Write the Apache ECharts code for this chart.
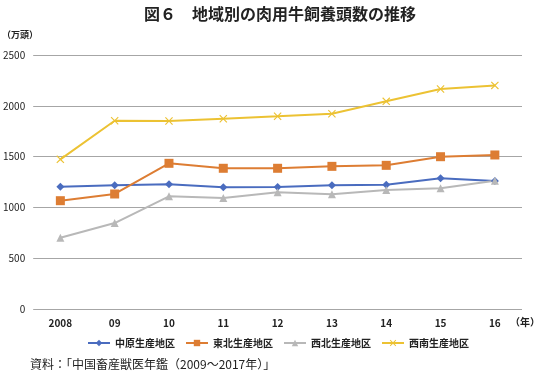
<!DOCTYPE html>
<html>
<head>
<meta charset="utf-8">
<script src="https://cdn.jsdelivr.net/npm/echarts@6/dist/echarts.min.js"></script>
<style>
  html, body { margin: 0; padding: 0; background: #fff; }
  #main { width: 535px; height: 375px; }
</style>
</head>
<body>
<div id="main"></div>
<script>
// 年（横軸）
var years = ['2008', '09', '10', '11', '12', '13', '14', '15', '16'];
// 地区別の頭数（万頭）
var chuugen = [1204, 1217, 1227, 1198, 1201, 1217, 1224, 1286, 1260];
var touhoku = [1066, 1132, 1434, 1385, 1385, 1404, 1414, 1499, 1516];
var seihoku = [702, 846, 1109, 1093, 1148, 1129, 1171, 1188, 1263];
var seinan = [1473, 1853, 1850, 1873, 1897, 1922, 2044, 2165, 2201];
var yTicks = [0, 500, 1000, 1500, 2000, 2500];

var font = '"Noto Sans CJK JP", "Noto Sans", sans-serif';
var crossPath = 'path://M0,1 L1,0 L5,4 L9,0 L10,1 L6,5 L10,9 L9,10 L5,6 L1,10 L0,9 L4,5 Z';

function makeLine(name, data, color, symbol, size) {
  return {
    name: name,
    type: 'line',
    data: data,
    symbol: symbol,
    symbolSize: size,
    lineStyle: { color: color, width: 2 },
    itemStyle: { color: color },
    animation: false
  };
}

var chart = echarts.init(document.getElementById('main'));
chart.setOption({
  animation: false,
  textStyle: { fontFamily: font },
  title: {
    text: '図６　地域別の肉用牛飼養頭数の推移',
    left: 275,
    textAlign: 'center',
    top: 1,
    textStyle: { fontSize: 16, fontWeight: 'bold', color: '#222', fontFamily: font }
  },
  grid: { left: 30, right: 13, top: 55, bottom: 66 },
  xAxis: {
    type: 'category',
    data: years,
    boundaryGap: true,
    axisLine: { show: false },
    axisTick: { show: false },
    axisLabel: { color: '#222', fontSize: 10, fontWeight: 'bold', margin: 9 }
  },
  yAxis: {
    type: 'value',
    min: yTicks[0],
    max: yTicks[yTicks.length - 1],
    interval: 500,
    axisLine: { show: false },
    axisTick: { show: false },
    splitLine: { lineStyle: { color: '#a6a6a6', width: 1 } },
    axisLabel: {
      color: '#222', fontSize: 10, margin: 8,
      formatter: function (v) { return String(v); }
    }
  },
  legend: {
    bottom: 22,
    left: 82,
    itemWidth: 22,
    itemHeight: 8,
    itemGap: 10,
    textStyle: { fontSize: 10, fontWeight: 'bold', color: '#222' },
    data: ['中原生産地区', '東北生産地区', '西北生産地区', '西南生産地区']
  },
  graphic: [
    { type: 'text', left: 2, top: 30, style: { text: '（万頭）', fontSize: 9, fontWeight: 'bold', fill: '#222', fontFamily: font } },
    { type: 'text', left: 510, top: 317, style: { text: '（年）', fontSize: 10, fontWeight: 'bold', fill: '#222', fontFamily: font } },
    { type: 'text', left: 30, top: 358, style: { text: '資料：「中国畜産獣医年鑑（2009～2017年）」', fontSize: 12, fill: '#222', fontFamily: font } }
  ],
  series: [
    makeLine('中原生産地区', chuugen, '#4a6cbf', 'diamond', 8),
    makeLine('東北生産地区', touhoku, '#dd7d33', 'rect', 9),
    makeLine('西北生産地区', seihoku, '#b8b8b8', 'triangle', 8),
    makeLine('西南生産地区', seinan, '#ecc233', crossPath, 8)
  ]
});
</script>
</body>
</html>
